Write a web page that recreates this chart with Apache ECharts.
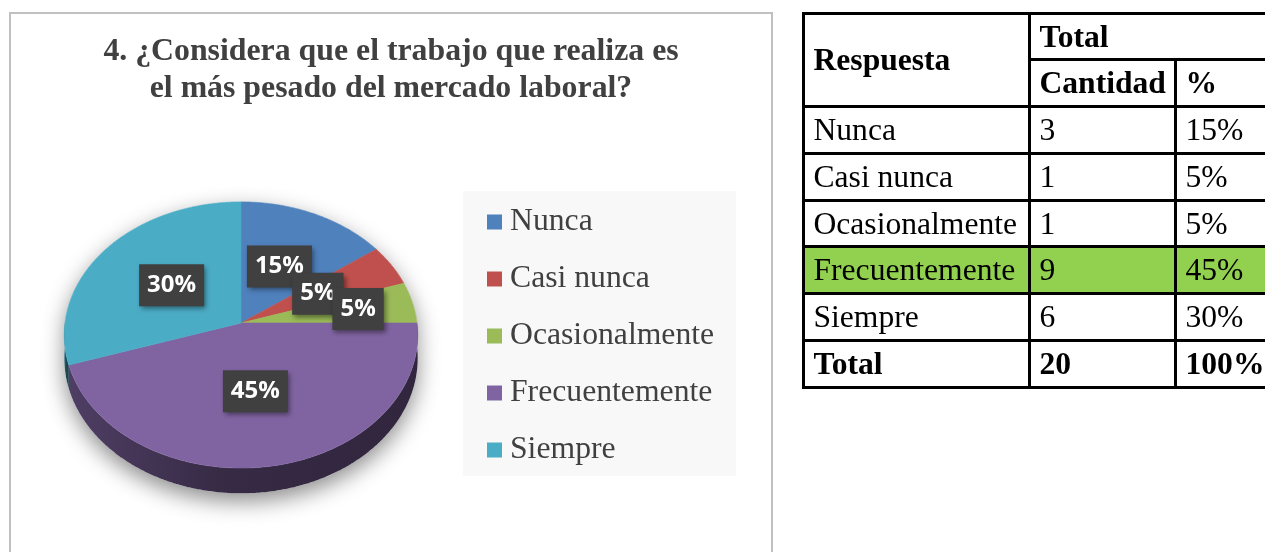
<!DOCTYPE html>
<html>
<head>
<meta charset="utf-8">
<script src="https://cdn.jsdelivr.net/npm/echarts@6/dist/echarts.min.js"></script>
<style>
  html, body { margin: 0; padding: 0; background: #fff; overflow: hidden; }
  #chart { position: absolute; left: 0; top: 0; width: 1265px; height: 552px; }
  #tabla {
    position: absolute; left: 801.5px; top: 11.5px; width: 472px;
    border-collapse: collapse; table-layout: fixed;
    font-family: 'Liberation Serif', 'Times New Roman', serif; font-size: 31.6px; color: #000;
  }
  #tabla td {
    border: 3px solid #000; padding: 0 0 0 9px; height: 43.75px;
    line-height: 1; white-space: nowrap; overflow: hidden; vertical-align: middle;
  }
  #tabla .b { font-weight: bold; }
  #tabla .verde td { background: #92d050; }
</style>
</head>
<body>
<div id="chart"></div>
<table id="tabla"></table>
<script>
// datos
const categories = ['Nunca', 'Casi nunca', 'Ocasionalmente', 'Frecuentemente', 'Siempre']
const counts = [3, 1, 1, 9, 6]
const percents = ['15%', '5%', '5%', '45%', '30%']
const totalLabel = ['Total', '20', '100%']
const highlightRow = 'Frecuentemente'

const colors = ['#4f81bd', '#c0504d', '#9bbb59', '#8064a2', '#4bacc6']
// radio relativo de cada etiqueta (Excel aparta la de Ocasionalmente)
const labelRadius = [0.5, 0.5, 0.68, 0.5, 0.5]

// geometria del pastel 3D (perspectiva simple: k = cuanto se aleja el fondo)
const pie = { cx: 241, cy: 323, rx: 176, ry: 132, k: 0.09, depth: 23 }
const total = counts.reduce((a, b) => a + b, 0)

function pt (t, dz, r) {
  if (r === undefined) r = 1
  const u = r * Math.sin(t), v = r * Math.cos(t)
  const w = 1 + pie.k * v
  return [pie.cx + pie.rx * u / w, pie.cy - pie.ry * v / w + (dz || 0) / w]
}
function arc (a, b, dz) {
  const pts = []
  const n = Math.max(2, Math.ceil((b - a) / 0.01))
  for (let k = 0; k <= n; k++) pts.push(pt(a + (b - a) * k / n, dz))
  return pts
}
function shade (hex, f) {
  const n = parseInt(hex.slice(1), 16)
  const r = Math.round(((n >> 16) & 255) * f), g = Math.round(((n >> 8) & 255) * f), b = Math.round((n & 255) * f)
  return 'rgb(' + r + ',' + g + ',' + b + ')'
}

function renderSlice (params, api) {
  const i = params.seriesIndex
  let before = 0
  for (let k = 0; k < i; k++) before += counts[k]
  const a0 = before / total * Math.PI * 2
  const a1 = (before + counts[i]) / total * Math.PI * 2
  const children = []

  if (i === 0) {
    // sombra bajo todo el pastel
    const sil = arc(-Math.PI / 2, Math.PI / 2, 0).concat(arc(Math.PI / 2, Math.PI * 1.5, pie.depth))
    children.push({
      type: 'polygon', shape: { points: sil }, z2: -10,
      style: { fill: '#fff', shadowBlur: 22, shadowColor: 'rgba(0,0,0,0.45)', shadowOffsetY: 8 }
    })
  }

  // lateral visible (mitad frontal)
  const s0 = Math.max(a0, Math.PI / 2), s1 = Math.min(a1, Math.PI * 1.5)
  if (s1 > s0) {
    const side = arc(s0, s1, 0).concat(arc(s0, s1, pie.depth).reverse())
    children.push({
      type: 'polygon', shape: { points: side }, z2: 1,
      style: {
        fill: {
          type: 'linear', x: 0, y: 0, x2: 1, y2: 0,
          colorStops: [
            { offset: 0, color: shade(colors[i], 0.62) },
            { offset: 0.45, color: shade(colors[i], 0.42) },
            { offset: 1, color: shade(colors[i], 0.38) }
          ]
        }
      }
    })
  }

  // cara superior
  const top = [pt(0, 0, 0)].concat(arc(a0, a1, 0))
  children.push({
    type: 'polygon', shape: { points: top }, z2: 2,
    style: { fill: colors[i], stroke: colors[i], lineWidth: 0.6 }
  })

  // etiqueta
  const lp = pt((a0 + a1) / 2, 0, labelRadius[i])
  children.push({
    type: 'text', z2: 100,
    x: lp[0], y: lp[1],
    style: {
      text: percents[i], fill: '#fff',
      font: 'bold 24px "Open Sans", sans-serif',
      align: 'center', verticalAlign: 'middle', lineHeight: 22,
      backgroundColor: '#404040', padding: [10, 8],
      shadowBlur: 5, shadowColor: 'rgba(0,0,0,0.45)', shadowOffsetX: 2, shadowOffsetY: 3
    }
  })
  return { type: 'group', children: children }
}

const option = {
  animation: false,
  backgroundColor: '#fff',
  title: {
    text: '4. ¿Considera que el trabajo que realiza es\nel más pesado del mercado laboral?',
    left: 391, top: 34, padding: 0, textAlign: 'center',
    textStyle: {
      fontFamily: 'Liberation Serif', fontWeight: 'bold', fontSize: 31.8,
      lineHeight: 36.5, color: '#404040'
    }
  },
  legend: {
    orient: 'vertical', left: 487, top: 206, padding: 0,
    itemWidth: 15, itemHeight: 15, itemGap: 25, icon: 'rect',
    data: categories,
    textStyle: {
      fontFamily: 'Liberation Serif', fontSize: 31.7, lineHeight: 31,
      color: '#404040', padding: [0, 0, 0, 3]
    }
  },
  graphic: [
    {
      type: 'rect', z: -1, silent: true,
      shape: { x: 10, y: 13, width: 762, height: 600 },
      style: { fill: '#fff', stroke: '#c0c0c0', lineWidth: 2 }
    },
    {
      type: 'rect', z: 0, silent: true,
      shape: { x: 463, y: 191, width: 273, height: 285 },
      style: { fill: '#f8f8f8' }
    }
  ],
  series: categories.map((name, i) => ({
    type: 'custom',
    name: name,
    coordinateSystem: 'none',
    silent: true,
    itemStyle: { color: colors[i] },
    renderItem: renderSlice,
    data: [counts[i]]
  }))
}

const myChart = echarts.init(document.getElementById('chart'))
myChart.setOption(option)

// tabla de frecuencias
let html = '<colgroup><col style="width:226px"><col style="width:146px"><col style="width:100px"></colgroup>'
html += '<tr><td class="b" rowspan="2">Respuesta</td><td class="b" colspan="2">Total</td></tr>'
html += '<tr><td class="b">Cantidad</td><td class="b">%</td></tr>'
categories.forEach((name, i) => {
  html += '<tr' + (name === highlightRow ? ' class="verde"' : '') + '><td>' + name + '</td><td>' + counts[i] + '</td><td>' + percents[i] + '</td></tr>'
})
html += '<tr>' + totalLabel.map(t => '<td class="b">' + t + '</td>').join('') + '</tr>'
document.getElementById('tabla').innerHTML = html
</script>
</body>
</html>
